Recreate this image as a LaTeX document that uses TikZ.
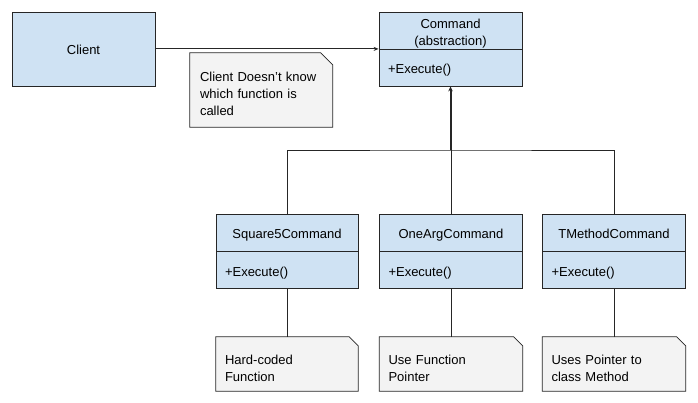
\documentclass[tikz,border=0pt]{standalone}
\usepackage{fontspec}
\setmainfont{Liberation Sans}
\usetikzlibrary{arrows.meta,backgrounds}
\definecolor{boxblue}{HTML}{CFE2F3}
\definecolor{notegray}{HTML}{F3F3F3}
\definecolor{edge}{HTML}{262626}
\newcommand\lowstrut{\rule{0pt}{14.6pt}}
\newcommand\notestrut{\rule{0pt}{17.6pt}}
\tikzset{
  umlbox/.style={draw=edge, fill=boxblue, line width=0.8pt, inner sep=0pt, font=\fontsize{13}{17}\selectfont},
  oneline/.style={text height=12pt, text depth=0pt},
  noteholder/.style={inner xsep=9pt, inner ysep=0pt, align=left, font=\fontsize{13}{17}\selectfont},
  notefill/.style={draw=edge, fill=notegray, line width=0.8pt},
  conn/.style={draw=edge, line width=0.8pt},
  tip/.style={-{Stealth[length=5pt,width=4pt]}},
}
\begin{document}
\begin{tikzpicture}[x=1pt,y=-1pt]
\useasboundingbox (0,0) rectangle (698,403);

% Client
\node[umlbox, oneline, minimum width=143pt, minimum height=74pt] (client) at (83.5,49) {Client};

% Command (abstraction)
\node[umlbox, minimum width=143pt, minimum height=37.3pt, align=center] (cmdt) at (450.5,30.65) {\lowstrut Command\\(abstraction)};
\node[umlbox, oneline, minimum width=143pt, minimum height=36.7pt, text width=125pt, align=left] (cmdb) at (450.5,67.65) {+Execute()};

% subclasses
\node[umlbox, oneline, minimum width=142pt, minimum height=37.5pt] (sqt) at (287,232.75) {Square5Command};
\node[umlbox, oneline, minimum width=142pt, minimum height=37pt, text width=124pt, align=left] (sqb) at (287,270) {+Execute()};
\node[umlbox, oneline, minimum width=143pt, minimum height=37.5pt] (oat) at (451,232.75) {OneArgCommand};
\node[umlbox, oneline, minimum width=143pt, minimum height=37pt, text width=125pt, align=left] (oab) at (451,270) {+Execute()};
\node[umlbox, oneline, minimum width=143pt, minimum height=37.5pt] (tmt) at (614,232.75) {TMethodCommand};
\node[umlbox, oneline, minimum width=143pt, minimum height=37pt, text width=125pt, align=left] (tmb) at (614,270) {+Execute()};

% notes
\node[noteholder, minimum width=142.5pt, minimum height=74pt, text width=122.5pt, inner xsep=10pt] (n0) at (261.25,90) {\rule{0pt}{16.6pt}Client Doesn't know\\which function is\\called};
\node[noteholder, minimum width=142pt, minimum height=54pt, text width=124pt] (n1) at (287,364) {\notestrut Hard-coded\\Function};
\node[noteholder, minimum width=143pt, minimum height=54pt, text width=125pt] (n2) at (451,364) {\notestrut Use Function\\Pointer};
\node[noteholder, minimum width=143pt, minimum height=54pt, text width=125pt] (n3) at (614,364) {\notestrut Uses Pointer to\\class Method};

\begin{scope}[on background layer]
\fill[white] (0,0) rectangle (698,403);
\draw[notefill] (n0.north west) -- ([xshift=-12pt]n0.north east) -- ([yshift=-12pt]n0.north east) -- (n0.south east) -- (n0.south west) -- cycle;
\foreach \n in {n1,n2,n3}{
  \draw[notefill] (\n.north west) -- ([xshift=-9pt]\n.north east) -- ([yshift=-9pt]\n.north east) -- (\n.south east) -- (\n.south west) -- cycle;
}
\end{scope}

% connectors
\draw[conn, tip] (client.east |- cmdb.north west) -- (cmdb.north west);
\coordinate (bus) at (cmdb.south |- 0,150);
\draw[conn] (sqt.north) |- (bus) -| (tmt.north);
\draw[conn] (oat.north) -- (oat.north |- bus);
\draw[draw=edge, line width=2pt, -{Stealth[length=5pt,width=4.5pt]}] (bus) -- (cmdb.south);
\draw[conn] (sqb.south) -- (n1.north);
\draw[conn] (oab.south) -- (n2.north);
\draw[conn] (tmb.south) -- (n3.north);
\end{tikzpicture}
\end{document}
